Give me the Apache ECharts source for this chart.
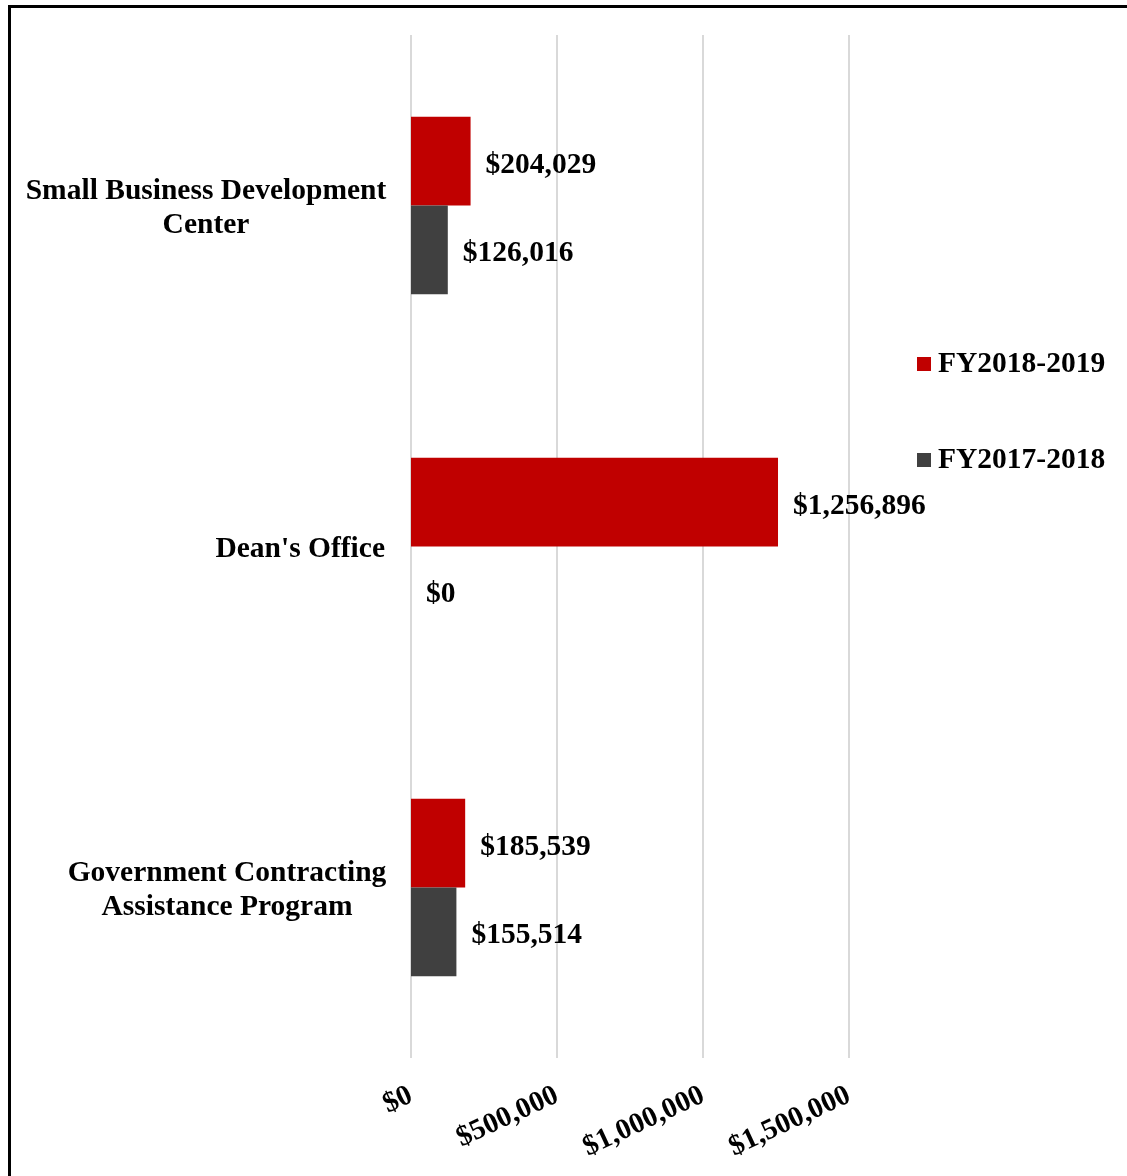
<!DOCTYPE html>
<html><head><meta charset="utf-8">
<script src="https://cdn.jsdelivr.net/npm/echarts@6/dist/echarts.min.js"></script>
<style>html,body{margin:0;padding:0;background:#fff}#c{width:1127px;height:1176px}</style>
</head><body><div id="c"></div>
<script>
const categories = ["Small Business Development Center", "Dean's Office", "Government Contracting Assistance Program"];
const fy1819 = [204029, 1256896, 185539];
const fy1718 = [126016, 0, 155514];
const seriesNames = ["FY2018-2019", "FY2017-2018"];
const xTicks = [0, 500000, 1000000, 1500000];

const font = '"Liberation Serif", "Times New Roman", serif';
const FS = 29.5;
const money = v => '$' + Math.round(v).toLocaleString('en-US');
const catLabel = {
  "Small Business Development Center": "{a|Small Business Development}\n{a|Center}",
  "Dean's Office": "{c|Dean's Office}",
  "Government Contracting Assistance Program": "{b|Government Contracting}\n{b|Assistance Program}"
};
const chart = echarts.init(document.getElementById('c'));
const labelStyle = {show: true, position: 'right', distance: 15, offset: [0, 4], formatter: p => money(p.value),
  fontFamily: font, fontWeight: 'bold', fontSize: FS, color: '#000'};
const richBase = {fontFamily: font, fontWeight: 'bold', fontSize: FS, color: '#000', lineHeight: 34, align: 'center'};
chart.setOption({
  animation: false,
  backgroundColor: '#fff',
  graphic: [{type: 'rect', shape: {x: 9.5, y: 6.5, width: 1300, height: 1300},
    style: {fill: 'none', stroke: '#000', lineWidth: 3}, silent: true}],
  legend: {
    orient: 'vertical', left: 912, top: 344, itemGap: 66, itemWidth: 14, itemHeight: 14,
    icon: 'rect', data: seriesNames,
    textStyle: {fontFamily: font, fontWeight: 'bold', fontSize: FS, color: '#000', padding: [0,0,0,2]}
  },
  grid: {left: 411, right: 278, top: 35, bottom: 118, containLabel: false},
  xAxis: {
    type: 'value', min: xTicks[0], max: xTicks[xTicks.length-1], interval: 500000,
    axisLine: {show: false}, axisTick: {show: false},
    splitLine: {lineStyle: {color: '#d9d9d9', width: 2}},
    axisLabel: {rotate: 25, margin: 36, formatter: v => money(v),
      fontFamily: font, fontWeight: 'bold', fontSize: 29, color: '#000'}
  },
  yAxis: {
    type: 'category', data: categories, inverse: true,
    axisLine: {show: false}, axisTick: {show: false},
    axisLabel: {margin: 26, formatter: v => catLabel[v], align: 'right', lineHeight: 34,
      padding: [6, 0, 0, 0],
      fontFamily: font, fontWeight: 'bold', fontSize: FS, color: '#000',
      rich: {a: Object.assign({width: 358}, richBase), b: Object.assign({width: 316}, richBase),
             c: Object.assign({}, richBase)}}
  },
  series: [
    {name: seriesNames[0], type: 'bar', data: fy1819, itemStyle: {color: '#c00000'},
     barGap: '0%', barCategoryGap: '48%', label: labelStyle},
    {name: seriesNames[1], type: 'bar', data: fy1718, itemStyle: {color: '#404040'},
     barGap: '0%', barCategoryGap: '48%', label: labelStyle}
  ]
});
</script></body></html>
